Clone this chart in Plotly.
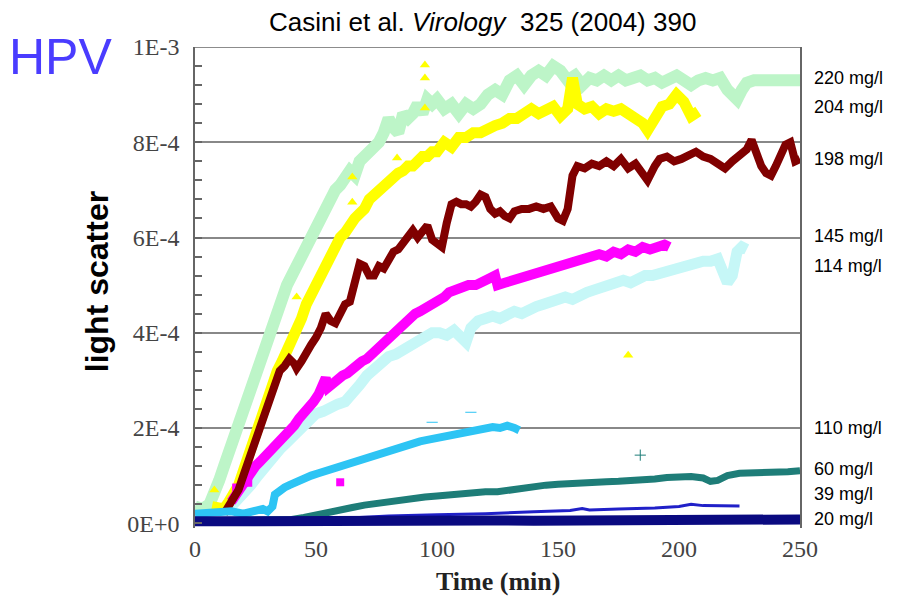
import plotly.graph_objects as go

# ---------------- data (light scatter in units of 1E-4) ----------------
t_220 = [0,3,6,8,10,12,14,16,18,20,22,24,26,28,30,32,34,36,38,40,42,44,46,48,50,52,54,56,58,60,62,64,66,68,70,72,74,76,78,80,82,84,86,88,90,92,94,96,98,100,103,106,109,112,115,118,121,124,127,130,133,136,139,142,145,148,151,154,157,160,163,166,169,172,175,178,181,184,187,190,193,196,199,202,205,208,211,214,217,220,222,224,226,228,231,234,237,240,243,246,250]
v_220 = [0.35,0.3,0.4,0.6,0.9,1.2,1.5,1.8,2.1,2.4,2.7,3.0,3.2,3.6,3.9,4.2,4.5,4.7,5.0,5.2,5.4,5.6,5.9,6.1,6.2,6.4,6.7,6.8,7.0,7.1,7.3,7.4,7.3,7.6,7.7,7.8,7.9,8.0,8.2,8.5,8.3,8.2,8.6,8.5,8.6,8.8,8.6,8.9,8.8,8.9,8.7,8.8,8.6,8.8,8.7,8.8,9.0,9.1,9.0,9.3,9.4,9.2,9.4,9.5,9.4,9.6,9.5,9.3,9.4,9.2,9.35,9.3,9.4,9.3,9.4,9.3,9.35,9.4,9.3,9.35,9.25,9.3,9.4,9.3,9.2,9.3,9.35,9.3,9.35,9.1,9.0,8.9,9.1,9.25,9.3,9.3,9.3,9.3,9.3,9.3,9.3]

t_204 = [7,10,12,14,16,18,20,22,24,26,28,30,32,34,36,38,40,42,44,46,48,50,52,54,56,58,60,62,64,66,68,70,72,74,76,78,80,82,84,86,88,90,92,94,96,98,100,103,106,109,112,115,118,121,124,127,130,133,136,139,142,145,148,151,154,156,158,161,164,167,170,173,176,179,182,185,187,190,193,196,199,202,205,208]
v_204 = [0.35,0.3,0.3,0.45,0.6,0.8,1.1,1.4,1.7,2.0,2.4,2.7,3.0,3.2,3.4,3.6,3.8,4.1,4.3,4.6,4.8,5.1,5.3,5.5,5.7,5.8,6.0,6.1,6.3,6.4,6.5,6.6,6.8,6.9,7.0,7.1,7.2,7.3,7.35,7.4,7.5,7.5,7.6,7.7,7.7,7.8,7.8,8.0,7.9,8.1,8.1,8.2,8.2,8.3,8.35,8.4,8.5,8.5,8.6,8.7,8.6,8.7,8.75,8.55,8.7,9.35,8.8,8.7,8.75,8.6,8.7,8.65,8.7,8.6,8.5,8.4,8.25,8.5,8.75,8.8,9.0,8.85,8.55,8.65]
t_204_pts = [8,42,65,65,83.5,95,95,95,179]
v_204_pts = [0.7,4.75,7.27,6.74,7.67,9.62,9.35,8.72,3.53]

t_198 = [12,14,16,18,20,22,24,26,28,30,32,34,35,37,39,41,42,44,46,48,50,52,54,56,58,60,62,64,66,68,70,72,74,76,78,80,82,84,86,88,90,92,94,96,98,100,102,104,106,108,110,112,114,116,118,120,122,124,126,128,130,132,135,138,141,144,147,150,152,154,156,158,161,164,167,170,173,176,179,182,185,187,190,192,195,198,201,204,207,210,213,216,219,222,225,228,230,232,234,236,238,240,242,244,246,248,250]
v_198 = [0.2,0.35,0.5,0.7,1.0,1.3,1.55,1.8,2.1,2.4,2.7,3.0,3.2,3.3,3.45,3.35,3.25,3.4,3.6,3.75,3.9,4.1,4.4,4.25,4.2,4.4,4.6,4.65,5.0,5.45,5.4,5.2,5.2,5.4,5.35,5.5,5.7,5.75,5.9,6.0,6.15,6.0,6.1,6.25,5.95,5.85,5.8,6.3,6.7,6.75,6.7,6.7,6.65,6.75,6.9,6.85,6.6,6.5,6.55,6.45,6.4,6.55,6.6,6.6,6.65,6.6,6.65,6.4,6.35,6.6,7.3,7.5,7.45,7.55,7.5,7.6,7.5,7.65,7.45,7.55,7.3,7.2,7.5,7.65,7.7,7.6,7.65,7.75,7.8,7.7,7.65,7.55,7.45,7.6,7.7,7.85,8.05,7.75,7.5,7.35,7.3,7.5,7.7,7.95,8.0,7.6,7.65]

t_145 = [15,17,19,21,23,25,27,29,31,33,35,37,39,41,43,45,47,49,51,53,54,55,57,59,61,63,65,67,69,71,73,75,77,79,81,83,85,87,89,91,93,95,97,99,101,103,105,107,110,113,116,119,122,124,125,128,131,134,137,140,143,146,149,152,155,158,161,164,167,170,173,176,179,182,185,188,191,194,196]
v_145 = [0.45,0.6,0.8,0.95,1.1,1.2,1.3,1.4,1.5,1.6,1.75,1.85,1.95,2.05,2.2,2.3,2.45,2.55,2.7,2.9,3.05,2.85,2.95,3.05,3.1,3.15,3.25,3.3,3.4,3.45,3.55,3.65,3.75,3.85,3.95,4.05,4.1,4.2,4.3,4.4,4.45,4.5,4.55,4.6,4.7,4.75,4.85,4.9,4.95,5.0,5.0,5.1,5.15,5.2,5.0,5.05,5.1,5.15,5.15,5.2,5.25,5.3,5.35,5.4,5.5,5.5,5.55,5.6,5.65,5.6,5.7,5.65,5.75,5.7,5.8,5.75,5.8,5.85,5.8]
t_145_pts = [17,22,60]
v_145_pts = [0.75,0.85,0.86]

t_114 = [14,17,20,23,26,29,32,35,38,41,44,47,50,53,56,59,62,65,68,71,74,77,80,83,86,89,92,95,98,101,104,107,110,112,114,117,120,123,126,129,132,135,138,141,144,147,150,153,156,159,162,165,168,171,174,177,180,183,186,189,192,195,198,201,204,207,210,213,216,218,220,222,224,226,228]
v_114 = [0.3,0.45,0.6,0.8,1.0,1.2,1.4,1.55,1.7,1.85,2.0,2.15,2.3,2.35,2.45,2.5,2.55,2.7,2.9,3.1,3.25,3.35,3.5,3.55,3.65,3.7,3.85,3.9,4.0,4.0,3.95,4.05,3.9,3.8,4.1,4.25,4.3,4.35,4.3,4.4,4.45,4.4,4.5,4.55,4.6,4.65,4.7,4.75,4.7,4.8,4.85,4.9,4.95,5.0,5.05,5.1,5.05,5.15,5.2,5.2,5.25,5.3,5.35,5.35,5.4,5.45,5.5,5.5,5.55,5.3,5.05,5.2,5.7,5.8,5.75]

t_110 = [0,5,10,15,20,25,28,30,32,33,35,37,39,41,43,45,48,51,54,57,60,63,66,69,72,75,78,81,84,87,90,93,96,99,102,105,108,111,114,117,120,123,126,129,132,134]
v_110 = [0.2,0.22,0.2,0.25,0.2,0.25,0.3,0.25,0.35,0.6,0.7,0.75,0.8,0.85,0.9,0.95,1.0,1.05,1.1,1.12,1.2,1.25,1.3,1.35,1.4,1.45,1.5,1.55,1.6,1.65,1.7,1.72,1.75,1.78,1.8,1.85,1.9,1.92,1.95,1.98,2.0,2.02,2.0,2.05,2.0,1.95]
t_110_pts = [98,114]
v_110_pts = [2.12,2.33]

t_60 = [0,20,35,40,45,50,55,60,65,70,75,80,85,90,95,100,105,110,115,120,125,130,135,140,145,150,155,160,165,170,175,180,185,190,195,200,205,210,213,216,220,225,230,235,240,245,250]
v_60 = [0.05,0.05,0.06,0.08,0.12,0.18,0.24,0.29,0.33,0.38,0.42,0.45,0.48,0.52,0.55,0.57,0.6,0.62,0.64,0.66,0.66,0.7,0.73,0.76,0.8,0.82,0.84,0.85,0.86,0.87,0.88,0.89,0.9,0.93,0.96,0.97,0.98,0.95,0.88,0.9,1.0,1.05,1.05,1.06,1.06,1.08,1.1]
t_60_pts = [184]
v_60_pts = [1.43]

t_39 = [0,40,60,80,100,120,140,155,160,163,175,190,200,205,210,220,225]
v_39 = [0.08,0.08,0.1,0.15,0.18,0.2,0.24,0.27,0.31,0.28,0.3,0.32,0.35,0.4,0.37,0.36,0.36]

t_20 = [0,20,40,60,80,100,120,140,160,170,172,190,210,230,240,250]
v_20 = [0.04,0.05,0.04,0.06,0.05,0.05,0.06,0.05,0.06,0.03,0.06,0.06,0.05,0.06,0.1,0.08]

x_ticks = [0, 50, 100, 150, 200, 250]
y_ticks = [0, 2, 4, 6, 8, 10]
y_ticktext = ["0E+0", "2E-4", "4E-4", "6E-4", "8E-4", "1E-3"]

labels = ["220 mg/l", "204 mg/l", "198 mg/l", "145 mg/l", "114 mg/l", "110 mg/l", "60 mg/l", "39 mg/l", "20 mg/l"]
label_y = [9.35, 8.74, 7.65, 6.03, 5.4, 2.0, 1.13, 0.61, 0.08]

# ---------------- figure ----------------
fig = go.Figure()

def line(t, v, color, width):
    fig.add_trace(go.Scatter(x=t, y=v, mode="lines",
                             line=dict(color=color, width=width),
                             hoverinfo="skip", showlegend=False))

def pts(t, v, color, symbol, size):
    fig.add_trace(go.Scatter(x=t, y=v, mode="markers",
                             marker=dict(color=color, symbol=symbol, size=size,
                                         line=dict(width=0)),
                             hoverinfo="skip", showlegend=False, cliponaxis=True))

line(t_220, v_220, "#bdf5c8", 12)
line(t_204, v_204, "#ffff00", 11)
pts(t_204_pts, v_204_pts, "#ffff00", "triangle-up", 9)
line(t_114, v_114, "#c6f7f7", 11)
line(t_145, v_145, "#ff00ff", 10)
pts(t_145_pts, v_145_pts, "#ff00ff", "square", 8)
line(t_198, v_198, "#800000", 8)
line(t_110, v_110, "#2dc4f4", 8)
pts(t_110_pts, v_110_pts, "#2dc4f4", "line-ew-open", 8)
line(t_60, v_60, "#1e7d78", 7)
pts(t_60_pts, v_60_pts, "#1e7d78", "cross-thin-open", 8)
line(t_39, v_39, "#2020c8", 3)
line(t_20, v_20, "#0a0a80", 10)

# top frame line
fig.add_shape(type="line", xref="paper", yref="y", x0=0, x1=1, y0=10, y1=10,
              line=dict(color="#666666", width=1.5), layer="below")

ann = []
for txt, yy in zip(labels, label_y):
    ann.append(dict(x=1.02, y=yy, xref="paper", yref="y", text=txt, showarrow=False,
                    xanchor="left", yanchor="middle",
                    font=dict(family="Liberation Sans", size=18, color="#000000")))
ann.append(dict(x=0.476, y=1.052, xref="paper", yref="paper",
                text="Casini et al. <i>Virology</i> \u00a0325 (2004) 390", showarrow=False,
                xanchor="center", yanchor="middle",
                font=dict(family="Liberation Sans", size=26, color="#000000")))
ann.append(dict(x=-0.222, y=0.979, xref="paper", yref="paper", text="HPV", showarrow=False,
                xanchor="center", yanchor="middle",
                font=dict(family="Liberation Sans", size=50, color="#4a3cff")))
ann.append(dict(x=-0.162, y=0.513, xref="paper", yref="paper", text="<b>light scatter</b>",
                showarrow=False, textangle=-90, xanchor="center", yanchor="middle",
                font=dict(family="Liberation Sans", size=32, color="#000000")))
ann.append(dict(x=0.5, y=-0.111, xref="paper", yref="paper", text="<b>Time (min)</b>",
                showarrow=False, xanchor="center", yanchor="middle",
                font=dict(family="Liberation Serif", size=26, color="#222222")))

fig.update_layout(
    width=904, height=604,
    margin=dict(l=195, r=104, t=47, b=76),
    paper_bgcolor="white", plot_bgcolor="white",
    annotations=ann,
    showlegend=False,
)
fig.update_xaxes(range=[0, 250], tickvals=x_ticks, showgrid=False, zeroline=False,
                 showline=False, ticks="", ticklabelstandoff=4,
                 tickfont=dict(family="Liberation Serif", size=24, color="#444444"))
fig.update_yaxes(range=[-0.1, 10], tickvals=y_ticks, ticktext=y_ticktext,
                 showgrid=True, gridcolor="#888888", gridwidth=1.5, zeroline=False,
                 showline=True, mirror=True, linecolor="#666666", linewidth=1.5,
                 ticks="inside", ticklen=7, tickwidth=1.5, tickcolor="#666666",
                 ticklabelstandoff=9,
                 minor=dict(dtick=0.4, tick0=0, ticks="inside", ticklen=7, tickwidth=1.5,
                            tickcolor="#666666", showgrid=False),
                 tickfont=dict(family="Liberation Serif", size=24, color="#444444"))

fig.write_html("out.html")
